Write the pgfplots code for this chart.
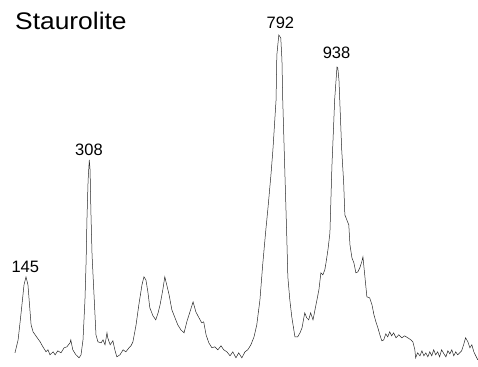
\documentclass[border=0pt]{standalone}
\usepackage{pgfplots}
\pgfplotsset{compat=1.18}
\usepackage{fontspec}
\setmainfont{Liberation Sans}
\begin{document}
\begin{tikzpicture}
\begin{axis}[
  scale only axis, width=478pt, height=367pt,
  xmin=78.9, xmax=1294, ymin=-7, ymax=360,
  hide axis, clip=false,
]
\path (rel axis cs:0,0) rectangle (rel axis cs:1,1);
\addplot[black!85, line width=0.5pt, mark=none] coordinates {
(117,7)(125,20)(132,45)(140,75)(145,83)(150,75)(153,60)(158,35)(163,28)(170,24)
(181,18)(188,13)(196,8)(201,10)(206,5)(214,8)(219,5)(226,9)(234,7)(242,12)
(249,13)(257,17)(259,20)(264,10)(272,5)(280,2)(285,5)(290,20)(295,60)(298,100)
(300,140)(303,180)(306,200)(308,190)(310,150)(313,105)(318,65)(323,25)(328,18)(336,17)
(341,20)(346,15)(351,27)(353,22)(359,15)(366,19)(371,10)(376,3)(384,5)(392,10)
(399,8)(407,12)(412,14)(417,18)(425,35)(432,55)(440,75)(445,83)(450,80)(455,68)
(460,52)(468,44)(475,40)(481,47)(486,55)(493,70)(498,83)(503,75)(509,65)(516,50)
(524,42)(531,35)(539,30)(547,27)(554,38)(562,48)(570,58)(577,48)(585,42)(592,37)
(597,38)(603,25)(610,17)(618,12)(625,13)(633,10)(641,14)(648,10)(656,8)(664,4)
(671,8)(679,2)(686,7)(694,2)(702,8)(709,10)(717,15)(725,23)(732,35)(740,60)
(747,95)(755,130)(760,150)(768,185)(773,210)(781,260)(783,305)(788,325)(793,322)(796,300)
(798,260)(803,193)(808,127)(811,83)(816,60)(821,43)(829,23)(836,23)(842,27)(847,32)
(854,47)(859,42)(864,40)(869,47)(875,40)(880,50)(885,60)(890,70)(895,87)(900,85)
(905,90)(908,97)(913,110)(918,127)(923,193)(928,240)(930,260)(936,293)(938,292)(941,280)
(943,260)(948,210)(953,177)(956,145)(958,143)(961,140)(966,135)(969,115)(974,102)(979,97)
(984,87)(989,88)(994,92)(999,98)(1002,103)(1004,95)(1009,75)(1012,63)(1019,62)(1025,55)
(1030,45)(1035,38)(1040,32)(1045,25)(1050,19)(1055,20)(1060,26)(1065,23)(1070,28)(1075,24)
(1080,27)(1086,22)(1093,25)(1101,22)(1108,24)(1116,22)(1124,20)(1129,18)(1134,10)(1136,2)
(1141,7)(1147,4)(1152,9)(1157,4)(1162,7)(1167,3)(1172,8)(1177,4)(1182,10)(1187,5)
(1192,8)(1197,3)(1202,10)(1208,6)(1213,3)(1218,9)(1223,6)(1228,10)(1233,4)(1238,8)
(1243,5)(1248,7)(1253,9)(1258,15)(1263,22)(1269,18)(1274,12)(1279,15)(1284,8)(1289,4)
(1294,0)
};
\node[anchor=base west, inner sep=0pt, font=\fontsize{24}{28}\selectfont] at (axis cs:117,330.7) {\scalebox{1.1}[1]{Staurolite}};
\node[anchor=base, inner sep=0pt, font=\fontsize{16.5}{20}\selectfont] at (axis cs:143.2,87.7) {145};
\node[anchor=base, inner sep=0pt, font=\fontsize{16.5}{20}\selectfont] at (axis cs:305.1,204) {308};
\node[anchor=base, inner sep=0pt, font=\fontsize{16.5}{20}\selectfont] at (axis cs:791.9,331.7) {792};
\node[anchor=base, inner sep=0pt, font=\fontsize{16.5}{20}\selectfont] at (axis cs:934.8,301.7) {938};
\end{axis}
\end{tikzpicture}
\end{document}
